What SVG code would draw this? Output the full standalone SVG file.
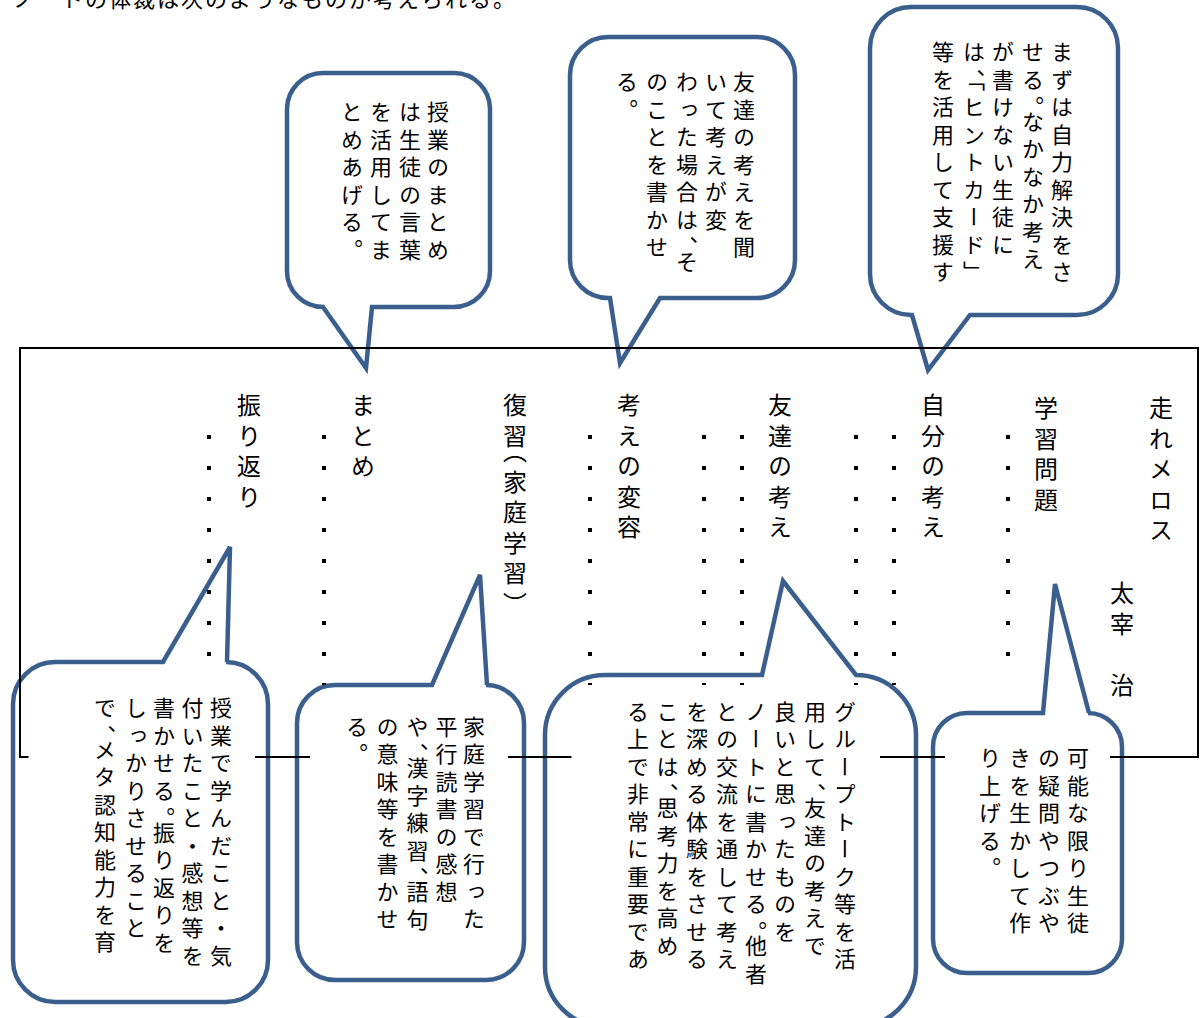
<svg xmlns="http://www.w3.org/2000/svg" width="1200" height="1018" viewBox="0 0 1200 1018">
<style>
.co{fill:#fff;stroke:#3B5F8D;stroke-width:4.5;stroke-linejoin:miter}
.fr{stroke:#000;stroke-width:2;fill:none}
.t{font-family:"Noto Sans CJK JP","Noto Sans CJK SC",sans-serif;font-size:22px;letter-spacing:5.5px;writing-mode:vertical-rl;fill:#000}
.lb{font-family:"Noto Sans CJK JP","Noto Sans CJK SC",sans-serif;font-size:24px;letter-spacing:6.5px;writing-mode:vertical-rl;fill:#000}
.hd{font-family:"Noto Sans CJK JP","Noto Sans CJK SC",sans-serif;font-size:22px;letter-spacing:2px;fill:#000}
.d{fill:#000}
</style>
<defs>
<g id="dotcol">
<rect class="d" x="-2" y="435" width="4" height="4"/>
<rect class="d" x="-2" y="466" width="4" height="4"/>
<rect class="d" x="-2" y="497" width="4" height="4"/>
<rect class="d" x="-2" y="528" width="4" height="4"/>
<rect class="d" x="-2" y="559" width="4" height="4"/>
<rect class="d" x="-2" y="590" width="4" height="4"/>
<rect class="d" x="-2" y="621" width="4" height="4"/>
<rect class="d" x="-2" y="652" width="4" height="4"/>
</g>
<rect id="halfdot" class="d" x="-2" y="683" width="4" height="2"/>
</defs>
<rect width="1200" height="1018" fill="#fff"/>

<g id="callout-matome">
<path class="co" d="M323,73 H454 A36,36 0 0 1 490,109 V271 A36,36 0 0 1 454,307 H372 L366,368 L323,307 A36,36 0 0 1 287,271 V109 A36,36 0 0 1 323,73 Z"/>
<text class="t" x="438" y="101">授業のまとめ</text>
<text class="t" x="410" y="101">は生徒の言葉</text>
<text class="t" x="381" y="101">を活用してま</text>
<text class="t" x="352" y="101">とめあげる。</text>
</g>

<g id="callout-henyo">
<path class="co" d="M608,37 H757 A38,38 0 0 1 795,75 V260 A38,38 0 0 1 757,298 H660 L620,363 L610,298 H608 A38,38 0 0 1 570,260 V75 A38,38 0 0 1 608,37 Z"/>
<text class="t" x="744" y="71">友達の考えを聞</text>
<text class="t" x="716" y="71">いて考えが変</text>
<text class="t" x="687" y="71">わった場合は、<tspan y="249.75">そ</tspan></text>
<text class="t" x="657" y="71">のことを書かせ</text>
<text class="t" x="627" y="71">る。</text>
</g>

<g id="callout-jibun">
<path class="co" d="M911,7 H1077 A41,41 0 0 1 1118,48 V274 A41,41 0 0 1 1077,315 H970 L928,370 L912,315 H911 A41,41 0 0 1 870,274 V48 A41,41 0 0 1 911,7 Z"/>
<text class="t" x="1062" y="41">まずは自力解決をさ</text>
<text class="t" x="1033" y="41">せる。<tspan y="109.75">なかなか考え</tspan></text>
<text class="t" x="1003" y="41">が書けない生徒に</text>
<text class="t" x="974" y="41">は、<tspan y="68.5">「ヒントカード」</tspan></text>
<text class="t" x="943" y="41">等を活用して支援す</text>
</g>

<g id="callout-furikaeri">
<path class="co" d="M55,662 H163 L230,547 L227,662 H226 A42,42 0 0 1 268,704 V960 A42,42 0 0 1 226,1002 H55 A42,42 0 0 1 13,960 V704 A42,42 0 0 1 55,662 Z"/>
<text class="t" x="221" y="697">授業で学んだこと・気</text>
<text class="t" x="192.5" y="697">付いたこと・感想等を</text>
<text class="t" x="164" y="697">書かせる。<tspan y="820.75">振り返りを</tspan></text>
<text class="t" x="136" y="697">しっかりさせること</text>
<text class="t" x="105" y="697">で、<tspan y="738.25">メタ認知能力を育</tspan></text>
</g>

<g id="callout-katei">
<path class="co" d="M335,685 H432 L480,575 L487,685 H486 A38,38 0 0 1 524,723 V942 A38,38 0 0 1 486,980 H335 A38,38 0 0 1 297,942 V723 A38,38 0 0 1 335,685 Z"/>
<text class="t" x="474" y="715.5">家庭学習で行った</text>
<text class="t" x="446.5" y="715.5">平行読書の感想</text>
<text class="t" x="417.5" y="715.5">や、<tspan y="756.75">漢字練習、</tspan><tspan y="880.5">語句</tspan></text>
<text class="t" x="387.5" y="715.5">の意味等を書かせ</text>
<text class="t" x="357" y="715.5">る。</text>
</g>

<g id="callout-tomodachi">
<path class="co" d="M605,675 H762 L783,581 L856,675 A60,60 0 0 1 916,735 V967 A60,60 0 0 1 856,1027 H605 A60,60 0 0 1 545,967 V735 A60,60 0 0 1 605,675 Z"/>
<text class="t" x="845" y="700.5">グループトーク等を活</text>
<text class="t" x="815" y="700.5">用して、<tspan y="796.75">友達の考えで</tspan></text>
<text class="t" x="785" y="700.5">良いと思ったものを</text>
<text class="t" x="756" y="700.5">ノートに書かせる。<tspan y="934.25">他者</tspan></text>
<text class="t" x="727" y="700.5">との交流を通して考え</text>
<text class="t" x="697" y="700.5">を深める体験をさせる</text>
<text class="t" x="667.5" y="700.5">ことは、<tspan y="796.75">思考力を高め</tspan></text>
<text class="t" x="638" y="700.5">る上で非常に重要であ</text>
</g>

<g id="callout-mondai">
<path class="co" d="M967,713 H1043 L1055,584 L1089,713 H1088 A34,34 0 0 1 1122,747 V939 A34,34 0 0 1 1088,973 H967 A34,34 0 0 1 933,939 V747 A34,34 0 0 1 967,713 Z"/>
<text class="t" x="1078" y="747">可能な限り生徒</text>
<text class="t" x="1049" y="747">の疑問やつぶや</text>
<text class="t" x="1020" y="747">きを生かして作</text>
<text class="t" x="990" y="747">り上げる。</text>
</g>

<g id="frame">
<path class="fr" d="M28.5,757 H20 V348 H1198 V757 H1110 M255,757 H310 M508,757 H571.5 M880,757 H945"/>
</g>

<g id="dots">
<use href="#dotcol" x="209"/>
<use href="#dotcol" x="324"/>
<use href="#dotcol" x="590"/>
<use href="#dotcol" x="704"/>
<use href="#dotcol" x="742"/>
<use href="#dotcol" x="856"/>
<use href="#dotcol" x="894"/>
<use href="#dotcol" x="1008"/>
<use href="#halfdot" x="324"/>
<use href="#halfdot" x="590"/>
<use href="#halfdot" x="704"/>
<use href="#halfdot" x="742"/>
<use href="#halfdot" x="856"/>
<use href="#halfdot" x="894"/>
</g>

<g id="labels">
<text class="lb" x="1161" y="396">走れメロス</text>
<text class="lb" x="1122" y="581">太宰　治</text>
<text class="lb" x="1046" y="396">学習問題</text>
<text class="lb" x="933" y="393">自分の考え</text>
<text class="lb" x="780" y="393">友達の考え</text>
<text class="lb" x="629" y="393">考えの変容</text>
<text class="lb" x="515" y="393">復習<tspan y="438.75">（</tspan><tspan y="469.25">家庭学習）</tspan></text>
<text class="lb" x="363" y="393">まとめ</text>
<text class="lb" x="249" y="393">振り返り</text>
</g>

<text class="hd" x="13" y="7">ノートの体裁は次のようなものが考えられる。</text>
</svg>
